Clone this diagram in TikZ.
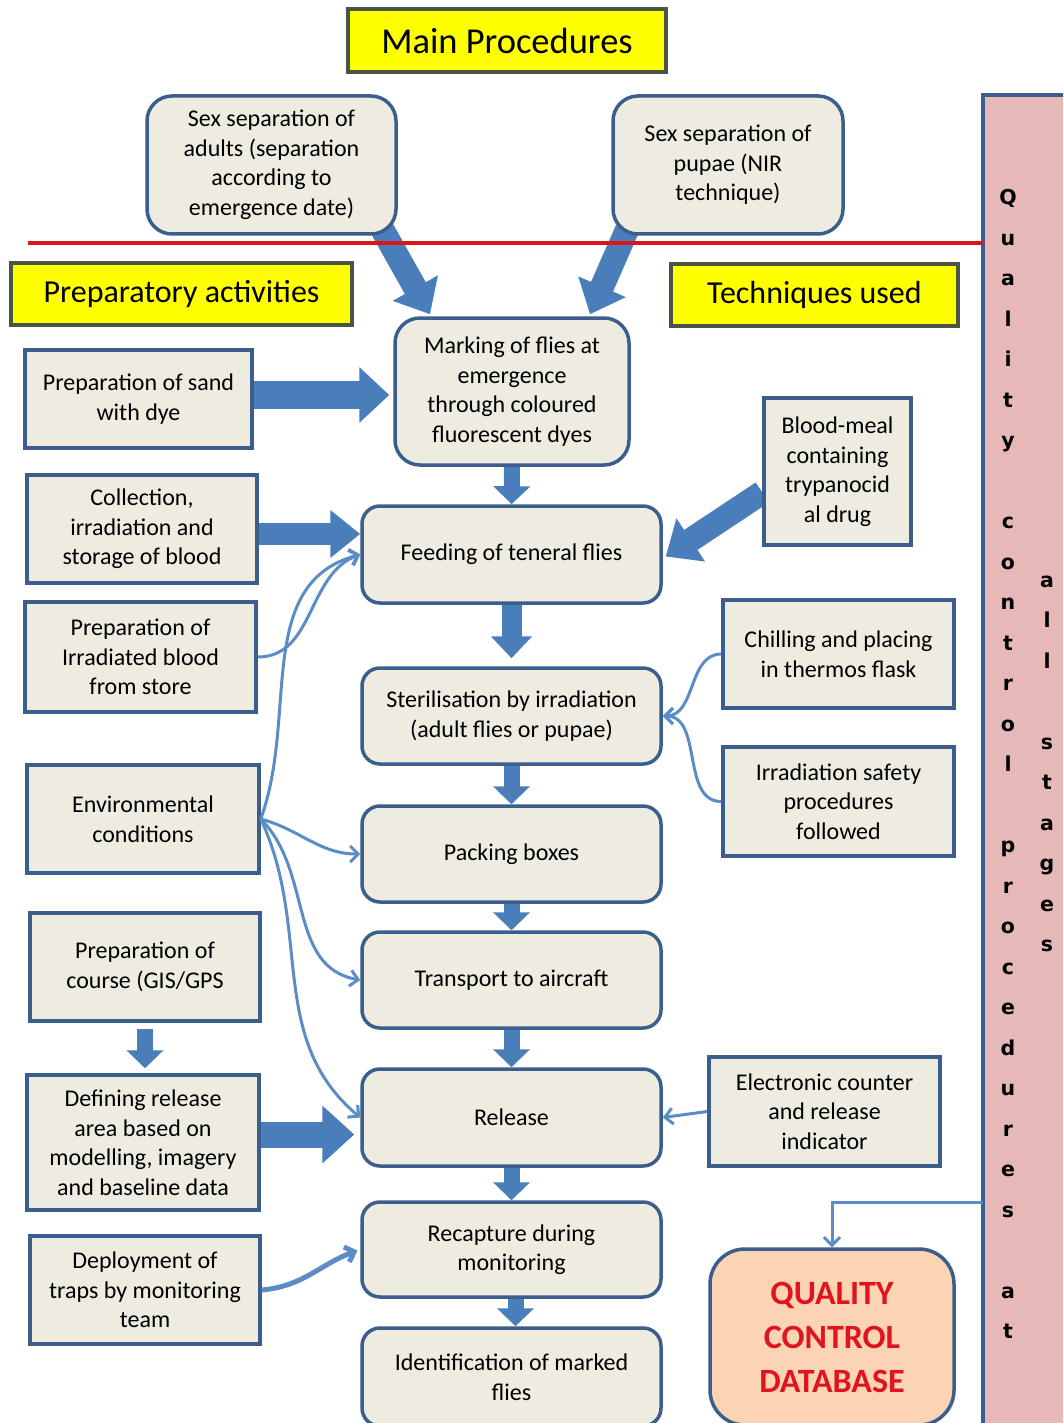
\documentclass[tikz,border=0pt]{standalone}
\usepackage{fontspec}
\setmainfont{Carlito}
\newfontfamily\barfont{DejaVu Sans}
\usetikzlibrary{arrows.meta,backgrounds}

\definecolor{boxfill}{HTML}{EEECE1}
\definecolor{boxline}{HTML}{3B5E8C}
\definecolor{arrowblue}{HTML}{4A7EBB}
\definecolor{thinblue}{HTML}{5B8CC8}
\definecolor{titlefill}{HTML}{FFFF00}
\definecolor{titleline}{HTML}{4B5545}
\definecolor{barpink}{HTML}{E6B9B8}
\definecolor{dbfill}{HTML}{FBD4B4}
\definecolor{dbred}{HTML}{E0141E}
\definecolor{redline}{HTML}{D9161B}

\begin{document}
\begin{tikzpicture}[x=1pt,y=1pt,
        boxtext/.style={font=\fontsize{24}{29.5}\selectfont, align=center, text=black},
        proc/.style={boxtext, draw=boxline, line width=3.5pt, fill=boxfill, rounded corners=18pt, minimum width=299pt, minimum height=96pt},
        prep/.style={boxtext, draw=boxline, line width=3.5pt, fill=boxfill, minimum width=231pt, minimum height=108pt},
        title/.style={draw=titleline, line width=3.5pt, fill=titlefill, font=\fontsize{32}{38}\selectfont, minimum height=62pt},
        bartext/.style={font=\barfont\bfseries\fontsize{20.5}{40.5}\selectfont, align=center},
        bigarrow/.style={arrowblue, line width=24pt, -{Triangle[width=50pt,length=30pt]}},
        downarrow/.style={arrowblue, line width=16pt, -{Triangle[width=36pt,length=18pt]}},
        thinarrow/.style={thinblue, line width=3pt, -{Straight Barb[width=16pt,length=8pt]}}]
        \useasboundingbox (0,0) rectangle (1063,-1423);
        \clip (0,0) rectangle (1063,-1423);

        % titles
        \node[title, minimum width=318pt, minimum height=63pt, font=\fontsize{36.5}{42}\selectfont] (mainproc) at (507,-40.5) {Main Procedures};
        \node[title, minimum width=341pt] (prepact) at (181.5,-294) {Preparatory activities};
        \node[title, minimum width=287pt] (techused) at (814.5,-295) {Techniques used};

        % quality control bar
        \node[fill=barpink, minimum width=110pt, minimum height=1345pt, anchor=north west, inner sep=0pt] (qbar) at (983,-95) {};
        \draw[boxline, line width=3.5pt] (qbar.south west) -- (qbar.north west) -- (qbar.north east);
        \node[bartext] (qtext) at (1008,-764) {Q\\u\\a\\l\\i\\t\\y\\~\\c\\o\\n\\t\\r\\o\\l\\~\\p\\r\\o\\c\\e\\d\\u\\r\\e\\s\\~\\a\\t};
        \node[bartext] (stagetext) at (1047,-764) {a\\l\\l\\~\\s\\t\\a\\g\\e\\s};

        % main procedures
        \node[proc, rounded corners=25pt, minimum width=249pt, minimum height=138pt] (adults) at (271.5,-165) {Sex separation of\\adults (separation\\according to\\emergence date)};
        \node[proc, rounded corners=25pt, minimum width=230pt, minimum height=138pt] (pupae) at (728,-165) {Sex separation of\\pupae (NIR\\technique)};
        \node[proc, rounded corners=25pt, minimum width=234pt, minimum height=147pt] (marking) at (512,-391.5) {Marking of flies at\\emergence\\through coloured\\fluorescent dyes};
        \node[proc, minimum height=97pt] (feeding) at (511.5,-554.5) {Feeding of teneral flies};
        \node[proc] (steril) at (511.5,-716) {Sterilisation by irradiation\\(adult flies or pupae)};
        \node[proc] (packing) at (511.5,-854) {Packing boxes};
        \node[proc] (transport) at (511.5,-980) {Transport to aircraft};
        \node[proc, minimum height=97pt] (release) at (511.5,-1117.5) {Release};
        \node[proc, minimum height=95pt] (recapture) at (511.5,-1249.5) {Recapture during\\monitoring};
        \node[proc, minimum height=98pt] (ident) at (511.5,-1377) {Identification of marked\\flies};

        % preparatory activities
        \node[prep, minimum width=227pt, minimum height=98pt] (sand) at (138.5,-399) {Preparation of sand\\with dye};
        \node[prep, minimum width=230pt] (blood) at (142,-529) {Collection,\\irradiation and\\storage of blood};
        \node[prep, minimum height=110pt] (irrblood) at (140.5,-657) {Preparation of\\Irradiated blood\\from store};
        \node[prep, minimum width=232pt] (env) at (143,-819) {Environmental\\conditions};
        \node[prep, minimum width=230pt] (course) at (145,-967) {Preparation of\\course (GIS/GPS};
        \node[prep, minimum width=232pt, minimum height=135pt] (defarea) at (143,-1142.5) {Defining release\\area based on\\modelling, imagery\\and baseline data};
        \node[prep, minimum width=230pt] (deploy) at (145,-1290) {Deployment of\\traps by monitoring\\team};

        % techniques used
        \node[prep, minimum width=147pt, minimum height=147pt] (bloodmeal) at (837.5,-471.5) {Blood-meal\\containing\\trypanocid\\al drug};
        \node[prep] (chilling) at (838.5,-654) {Chilling and placing\\in thermos flask};
        \node[prep, minimum height=109pt] (safety) at (838.5,-801.5) {Irradiation safety\\procedures\\followed};
        \node[prep, minimum height=109pt] (counter) at (824.5,-1111.5) {Electronic counter\\and release\\indicator};
        \node[boxtext, draw=boxline, line width=3.5pt, fill=dbfill, rounded corners=35pt, minimum width=244pt, minimum height=176pt, font=\bfseries\fontsize{34}{44}\selectfont, text=dbred] (qcdb) at (832,-1337) {QUALITY\\CONTROL\\DATABASE};

        % block arrows
        \begin{scope}[on background layer]
        \coordinate (sandout) at ([yshift=4pt]sand.east);
        \coordinate (bloodout) at ([yshift=-5pt]blood.east);
        \coordinate (defout) at ([yshift=8pt]defarea.east);
        \draw[bigarrow] ([xshift=111pt,yshift=6pt]adults.south) -- ([xshift=-82pt,yshift=2pt]marking.north);
        \draw[bigarrow] ([xshift=-101pt,yshift=6pt]pupae.south) -- ([xshift=78pt,yshift=2pt]marking.north);
        \draw[bigarrow, line width=28pt, -{Triangle[width=54pt,length=30pt]}, shorten >=4pt] (sandout) -- (sandout -| marking.west);
        \draw[bigarrow, line width=22pt, -{Triangle[width=46pt,length=30pt]}] (bloodout) -- (bloodout -| feeding.west);
        \draw[bigarrow] ([yshift=-21pt]bloodmeal.west) -- ([xshift=3pt,yshift=-2pt]feeding.east);
        \draw[bigarrow, line width=26pt, -{Triangle[width=56pt,length=32pt]}, shorten >=6pt] (defout) -- (defout -| release.west);
        \draw[downarrow, shorten <=6pt, shorten >=5pt] (course.south) -- (course.south |- defarea.north);
        \draw[downarrow] (marking.south) -- (feeding.north);
        \draw[downarrow, line width=20pt, -{Triangle[width=40pt,length=22pt]}, shorten >=8pt] (feeding.south) -- (steril.north);
        \draw[downarrow] (steril.south) -- (packing.north);
        \draw[downarrow] (packing.south) -- (transport.north);
        \draw[downarrow] (transport.south) -- (release.north);
        \draw[downarrow] (release.south) -- (recapture.north);
        \draw[downarrow] ([xshift=4pt]recapture.south) -- ([xshift=4pt]ident.north);
        \end{scope}

        % thin arrows
        \draw[thinarrow] (irrblood.east) to[out=0,in=200] (feeding.west);
        \draw[thinarrow] (env.east) to[out=70,in=195] (feeding.west);
        \draw[thinarrow] (env.east) to[out=-15,in=180] (packing.west);
        \draw[thinarrow] (env.east) to[out=-45,in=170] (transport.west);
        \draw[thinarrow] (env.east) to[out=-65,in=140] (release.west);
        \draw[thinarrow] (chilling.west) to[out=180,in=0] (steril.east);
        \draw[thinarrow] (safety.west) to[out=180,in=0] (steril.east);
        \draw[thinarrow] (counter.west) -- (release.east);
        \draw[thinarrow, line width=5pt, shorten >=3pt] (deploy.east) to[out=5,in=200] (recapture.west);
        \draw[thinarrow] ([yshift=-434.5pt]qbar.west) -| (qcdb.north);

        \coordinate (redstart) at (28,-243);
        \draw[redline, line width=4pt] (redstart) -- (redstart -| qbar.west);
    \end{tikzpicture}
\end{document}
